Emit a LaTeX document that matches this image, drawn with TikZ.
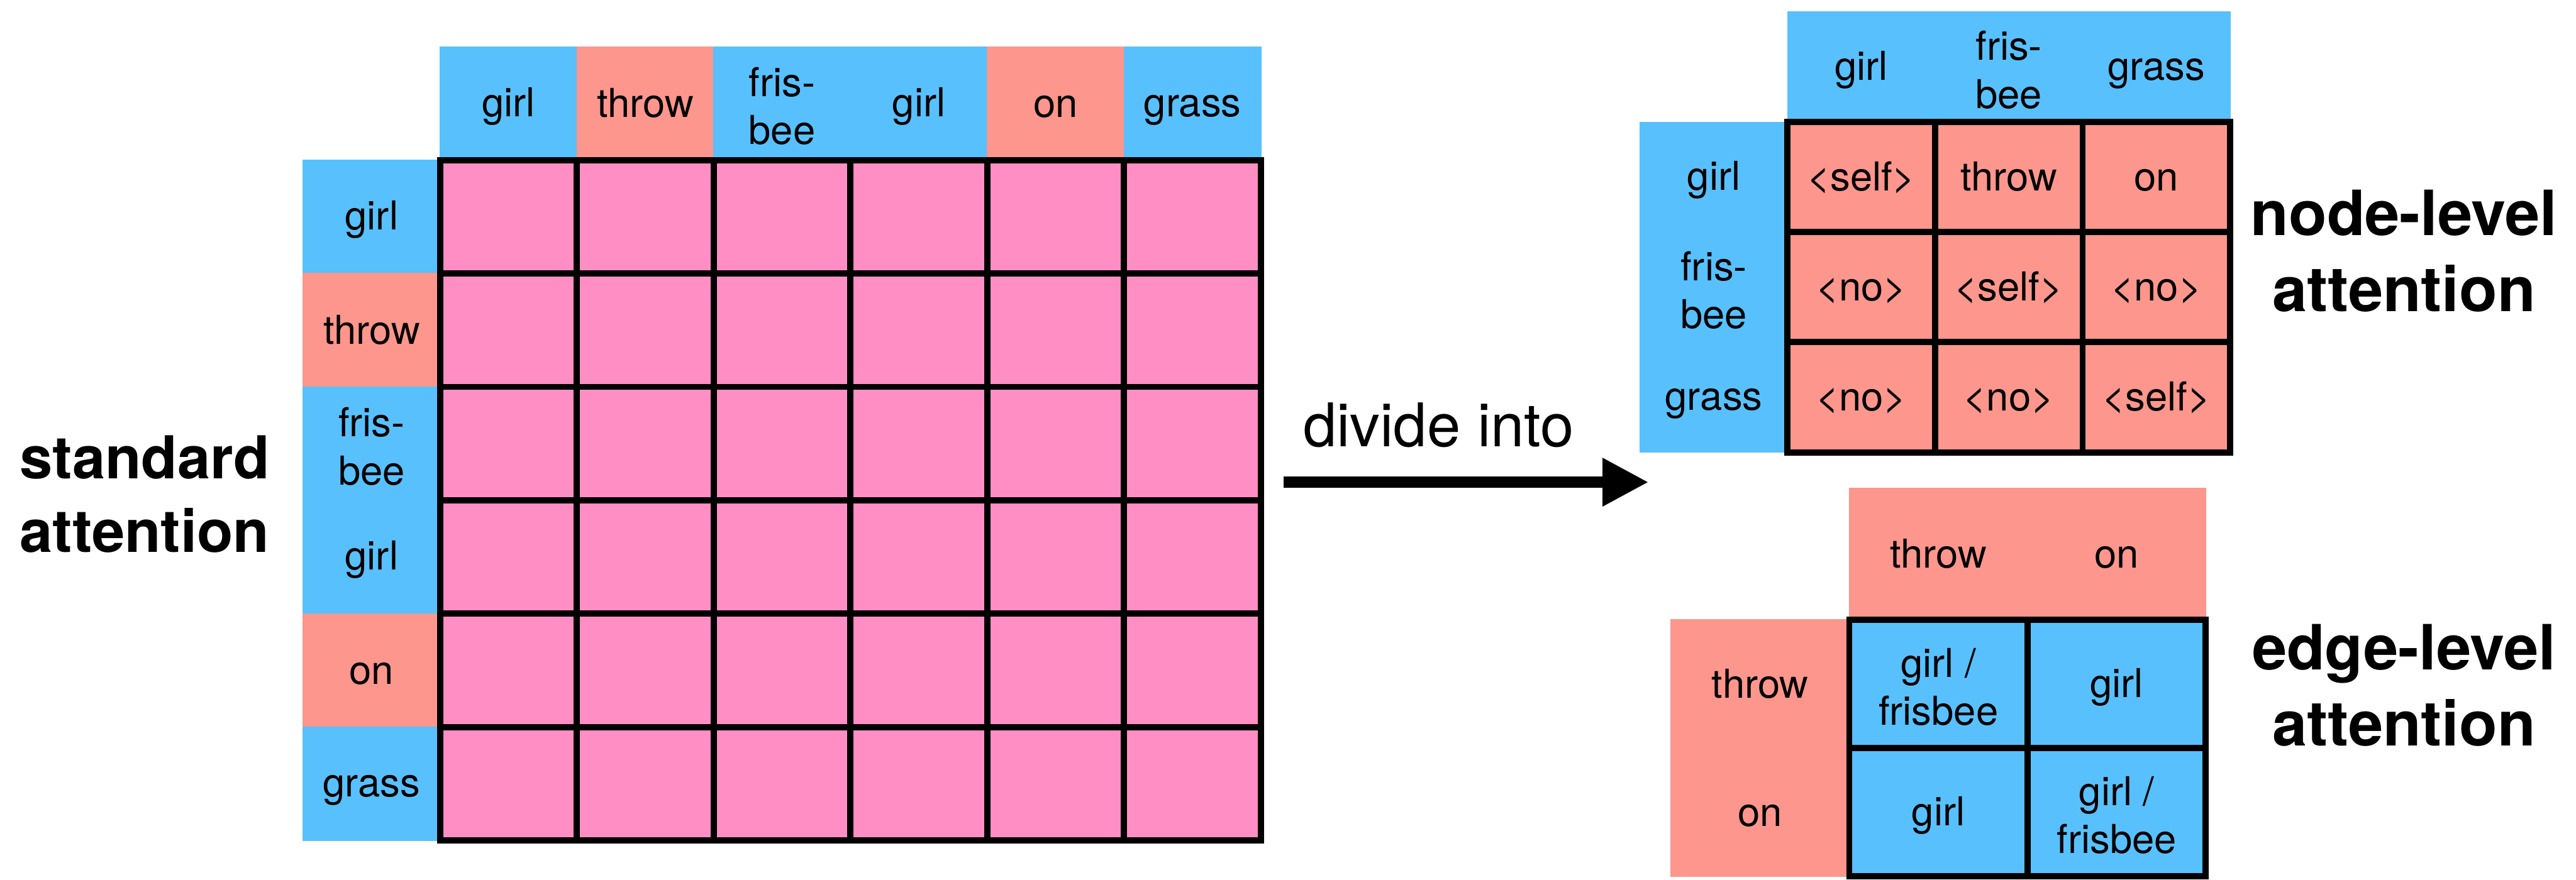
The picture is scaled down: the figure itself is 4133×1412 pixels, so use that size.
\documentclass[tikz,border=0pt]{standalone}
\usepackage{fontspec}
\setmainfont{TeX Gyre Heros}
\usetikzlibrary{arrows.meta}

\definecolor{nodeblue}{RGB}{88,192,253}
\definecolor{edgered}{RGB}{253,150,140}
\definecolor{scorepink}{RGB}{254,142,196}

% same baseline in every cell, one line or two
\newcommand{\cellstrut}{\rule[-1.2mm]{0pt}{6.8mm}}

\begin{document}
\begin{tikzpicture}[
            x = 0.1mm, y = -0.1mm, % one unit per pixel, y grows downwards
            > = {Triangle[length=7.4mm, width=7.3mm]}, % fat arrow head
            line width = 1mm % grid lines
        ]

        \tikzstyle{word}=[
            font = \fontsize{18.2pt}{21.9pt}\selectfont,
            align = center,
            inner sep = 0pt
        ]
        \tikzstyle{head}=[word, line width = 0.4pt] % drawn in its own fill colour
        \tikzstyle{cell}=[word, draw = black, line width = 1mm]
        \tikzstyle{title}=[
            font = \bfseries\fontsize{28.5pt}{34.7pt}\selectfont,
            align = center,
            inner sep = 0pt
        ]
        \tikzstyle{plain}=[font = \fontsize{27.5pt}{34pt}\selectfont, inner sep = 0pt]
        \tikzstyle{std}=[minimum width = 21.95mm, minimum height = 18.2mm]
        \tikzstyle{nl}=[minimum width = 23.67mm, minimum height = 17.67mm]
        \tikzstyle{el}=[minimum width = 28.6mm, minimum height = 20.6mm]

        \useasboundingbox (0,0) rectangle (4133,1412);

        % standard attention, 6 x 6
        \foreach \t/\c [count=\i] in {girl/nodeblue, throw/edgered, {fris-\\bee}/nodeblue,
                girl/nodeblue, on/edgered, grass/nodeblue} {
            \node[head, std, fill=\c, draw=\c] (std-top-\i) at (596.25+219.5*\i, 166) {\cellstrut\t};
            \node[head, std, fill=\c, draw=\c] (std-side-\i) at (596.25, 166+182*\i) {\cellstrut\t};
        }
        \foreach \r in {1,...,6}
            \foreach \k in {1,...,6}
                \node[cell, std, fill=scorepink] (std-\r-\k) at (596.25+219.5*\k, 166+182*\r) {};

        \node[title, font = \bfseries\fontsize{27pt}{33.6pt}\selectfont] (std-title) at (232, 793) {standard\\attention};

        % divide arrow
        \coordinate (split-from) at (2059, 774);
        \coordinate (split-to) at (2645, 774);
        \draw[->, line width = 1.8mm] (split-from) -- (split-to);
        \node[plain, anchor = base] (split-text) at (2308, 717) {divide into};

        % node-level, 3 x 3
        \foreach \t [count=\i] in {girl, {fris-\\bee}, grass} {
            \node[head, nl, fill=nodeblue, draw=nodeblue] (nl-top-\i) at (2749.67+236.67*\i, 107.67) {\cellstrut\t};
            \node[head, nl, fill=nodeblue, draw=nodeblue] (nl-side-\i) at (2749.67, 107.67+176.67*\i) {\cellstrut\t};
        }
        \foreach \r/\k/\t in {1/1/<self>, 1/2/throw, 1/3/on,
                2/1/<no>, 2/2/<self>, 2/3/<no>,
                3/1/<no>, 3/2/<no>, 3/3/<self>}
            \node[cell, nl, fill=edgered] (nl-\r-\k) at (2749.67+236.67*\k, 107.67+176.67*\r) {\cellstrut\t};

        \node[title] (nl-title) at (3857, 403) {node-level\\attention};

        % edge-level, 2 x 2
        \foreach \t [count=\i] in {throw, on} {
            \node[head, el, minimum height = 21.1mm, fill=edgered, draw=edgered] (el-top-\i) at (2824+286*\i, 889.5) {\cellstrut\t};
            \node[head, el, fill=edgered, draw=edgered] (el-side-\i) at (2824, 892+206*\i) {\cellstrut\t};
        }
        \foreach \r/\k/\t in {1/1/{girl /\\frisbee}, 1/2/girl, 2/1/girl, 2/2/{girl /\\frisbee}}
            \node[cell, el, fill=nodeblue] (el-\r-\k) at (2824+286*\k, 892+206*\r) {\cellstrut\t};

        \node[title] (el-title) at (3857, 1100) {edge-level\\attention};

    \end{tikzpicture}
\end{document}
